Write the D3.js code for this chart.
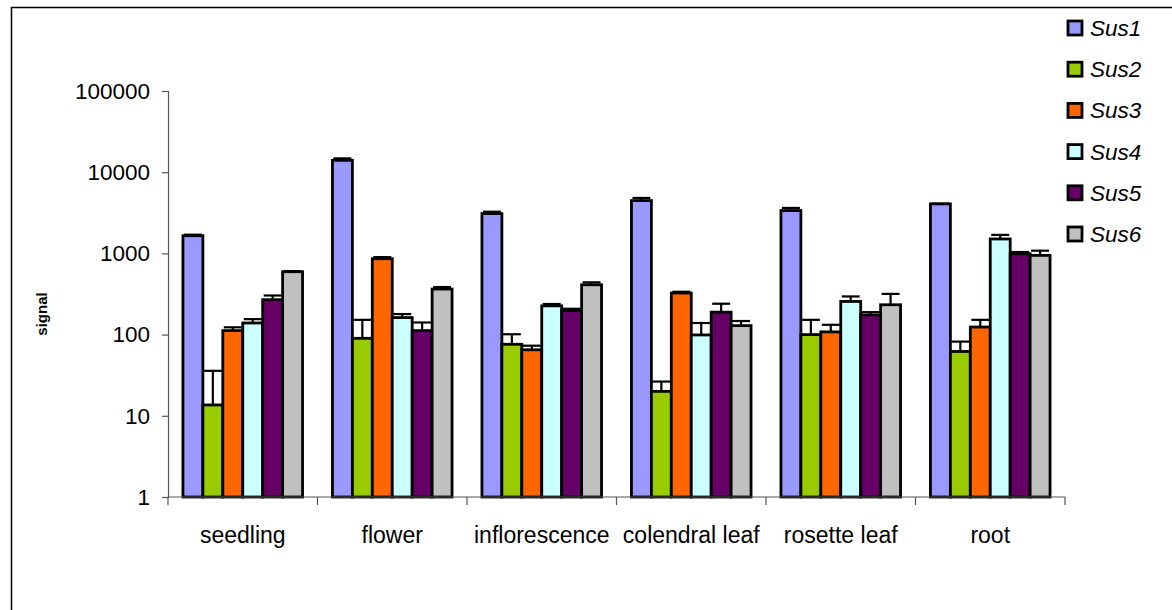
<!DOCTYPE html>
<html>
<head>
<meta charset="utf-8">
<script src="https://cdn.jsdelivr.net/npm/d3@7"></script>
<style>
  html, body { margin: 0; padding: 0; background: #fff; }
  svg { display: block; }
  text { font-family: "Liberation Sans", Arial, sans-serif; fill: #000; }
</style>
</head>
<body>
<svg id="chart" width="1172" height="610"></svg>
<script>
// Tissue categories along the x axis
const tissues = ["seedling", "flower", "inflorescence", "colendral leaf", "rosette leaf", "root"];
// Sucrose synthase genes
const genes = ["Sus1", "Sus2", "Sus3", "Sus4", "Sus5", "Sus6"];
const geneColors = ["#9999FF", "#99CC00", "#FF6600", "#CCFFFF", "#660066", "#C0C0C0"];

// Mean signal per gene, one entry per tissue
const sus1 = [1650, 14000, 3090, 4470, 3370, 4070];
const sus2 = [13.6, 90, 76, 20, 100, 62];
const sus3 = [112, 860, 65, 325, 108, 124];
const sus4 = [139, 162, 226, 99, 256, 1505];
const sus5 = [269, 112, 198, 189, 175, 990];
const sus6 = [595, 364, 411, 129, 233, 945];

// Upper end of each error bar (mean + SD)
const sus1Err = [1700, 14800, 3260, 4820, 3630, 4100];
const sus2Err = [35.8, 152, 101, 26.4, 152, 82];
const sus3Err = [123, 900, 73, 337, 132, 152];
const sus4Err = [155, 179, 238, 139, 295, 1690];
const sus5Err = [303, 141, 208, 240, 189, 1040];
const sus6Err = [605, 385, 440, 147, 317, 1080];

const yTicks = [1, 10, 100, 1000, 10000, 100000];

const means = [sus1, sus2, sus3, sus4, sus5, sus6];
const errs = [sus1Err, sus2Err, sus3Err, sus4Err, sus5Err, sus6Err];

const svg = d3.select("#chart");

// Outer chart frame (runs off the right and bottom edges)
svg.append("rect")
  .attr("x", 11.5).attr("y", 7.5)
  .attr("width", 1200).attr("height", 700)
  .attr("fill", "none").attr("stroke", "#000").attr("stroke-width", 1.5);

const plot = { left: 168, right: 1065, top: 91, bottom: 497 };

const x = d3.scaleBand().domain(tissues).range([plot.left, plot.right]).padding(0);
const inner = d3.scaleBand().domain(genes)
  .range([x.bandwidth() * 0.1, x.bandwidth() * 0.9]).padding(0);
const y = d3.scaleLog().domain([1, 100000]).range([plot.bottom, plot.top]);

// Flatten into one record per bar
const records = [];
tissues.forEach((t, i) => {
  genes.forEach((g, j) => {
    records.push({ tissue: t, gene: g, color: geneColors[j], value: means[j][i], err: errs[j][i] });
  });
});

// Bars
const bars = svg.append("g");
bars.selectAll("rect").data(records).join("rect")
  .attr("x", d => x(d.tissue) + inner(d.gene))
  .attr("y", d => y(d.value))
  .attr("width", inner.bandwidth())
  .attr("height", d => y(1) - y(d.value))
  .attr("fill", d => d.color)
  .attr("stroke", "#000")
  .attr("stroke-width", 2.8);

// Error bars (upper only, with a cap)
const errG = svg.append("g").attr("stroke", "#000").attr("stroke-width", 2.2);
records.forEach(d => {
  const cx = x(d.tissue) + inner(d.gene) + inner.bandwidth() / 2;
  const capHalf = inner.bandwidth() * 0.45;
  errG.append("line")
    .attr("x1", cx).attr("x2", cx)
    .attr("y1", y(d.value)).attr("y2", y(d.err));
  errG.append("line")
    .attr("x1", cx - capHalf).attr("x2", cx + capHalf)
    .attr("y1", y(d.err)).attr("y2", y(d.err));
});

// Y axis
const yAxis = d3.axisLeft(y).tickValues(yTicks).tickFormat(d3.format("d")).tickSize(6).tickPadding(12);
const yG = svg.append("g").attr("transform", `translate(${plot.left},0)`).call(yAxis);
yG.select(".domain").attr("stroke", "#555").attr("stroke-width", 1.2);
yG.selectAll(".tick line").attr("stroke", "#555").attr("stroke-width", 1.2);
yG.selectAll(".tick text").style("font-size", "22.5px");

// X axis: ticks at category boundaries
const xG = svg.append("g").attr("transform", `translate(0,${plot.bottom})`);
xG.append("line")
  .attr("x1", plot.left).attr("x2", plot.right)
  .attr("stroke", "#555").attr("stroke-width", 1.2);
const bounds = tissues.map(t => x(t)).concat([x(tissues[tissues.length - 1]) + x.bandwidth()]);
xG.selectAll("line.bound").data(bounds).join("line")
  .attr("class", "bound")
  .attr("x1", d => d).attr("x2", d => d)
  .attr("y1", 0).attr("y2", 8)
  .attr("stroke", "#555").attr("stroke-width", 1.2);
xG.selectAll("text").data(tissues).join("text")
  .attr("x", d => x(d) + x.bandwidth() / 2)
  .attr("y", 46)
  .attr("text-anchor", "middle")
  .style("font-size", "23px")
  .text(d => d);

// Y axis title
svg.append("text")
  .attr("transform", "translate(47,314) rotate(-90)")
  .attr("text-anchor", "middle")
  .style("font-size", "15px")
  .style("font-weight", "bold")
  .text("signal");

// Legend
const legend = svg.append("g").attr("transform", "translate(1068,21)");
genes.forEach((g, j) => {
  const row = legend.append("g").attr("transform", `translate(0,${j * 41.2})`);
  row.append("rect")
    .attr("x", 0).attr("y", 0).attr("width", 14).attr("height", 14)
    .attr("fill", geneColors[j]).attr("stroke", "#000").attr("stroke-width", 2.8);
  row.append("text")
    .attr("x", 22).attr("y", 15)
    .style("font-size", "22.5px")
    .style("font-style", "italic")
    .text(g);
});
</script>
</body>
</html>
